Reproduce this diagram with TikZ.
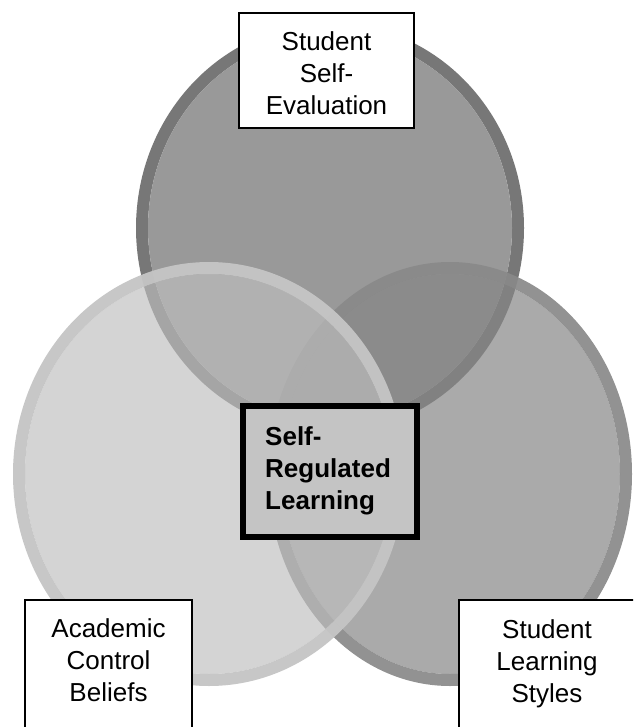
\documentclass[tikz,border=0pt]{standalone}
\usepackage{fontspec}
\setmainfont{Liberation Sans}
\definecolor{topfill}{gray}{0.60}
\definecolor{toprim}{gray}{0.467}
\definecolor{rightfill}{gray}{0.525}
\definecolor{rightrim}{gray}{0.537}
\definecolor{leftfill}{gray}{0.745}
\definecolor{leftrim}{gray}{0.773}
\definecolor{corefill}{gray}{0.77}
\tikzset{
  labelbox/.style={draw=black, line width=1.3pt, fill=white, inner sep=0pt},
  labeltext/.style={font=\fontsize{26}{32}\selectfont, align=center, inner sep=0pt, anchor=north},
  corebox/.style={draw=black, line width=6pt, fill=corefill, inner sep=0pt},
  coretext/.style={font=\bfseries\fontsize{26}{32}\selectfont, align=left, inner sep=0pt, anchor=north west},
}
\begin{document}
\begin{tikzpicture}[x=1pt,y=-1pt]
\useasboundingbox (0,0) rectangle (633,727);
\clip (0,0) rectangle (633,727);
\fill[white] (0,0) rectangle (633,727);
% top circle
\fill[toprim, even odd rule] (330,228) ellipse (194 and 205) (330,228) ellipse (182 and 193);
\fill[topfill] (330,228) ellipse (182 and 193);
% right circle
\fill[rightrim, fill opacity=0.92, even odd rule] (450,474) ellipse (182 and 212) (450,474) ellipse (170 and 200);
\fill[rightfill, fill opacity=0.70] (450,474) ellipse (170 and 200);
% left circle
\fill[leftrim, fill opacity=0.96, even odd rule] (209,474) ellipse (196 and 212) (209,474) ellipse (184 and 200);
\fill[leftfill, fill opacity=0.657] (209,474) ellipse (184 and 200);
% boxes
\node[labelbox, minimum width=175pt, minimum height=115pt] (evalbox) at (326.5,70.5) {};
\node[labeltext] (evaltext) at (326.5,30) {\rule{0pt}{20pt}Student\\Self-\\Evaluation};
\node[labelbox, minimum width=167pt, minimum height=160pt] (beliefbox) at (108.5,680) {};
\node[labeltext] (belieftext) at (108.5,617) {\rule{0pt}{20pt}Academic\\Control\\Beliefs};
\node[labelbox, minimum width=176pt, minimum height=160pt] (stylebox) at (547,680) {};
\node[labeltext] (styletext) at (547,618) {\rule{0pt}{20pt}Student\\Learning\\Styles};
\node[corebox, minimum width=174pt, minimum height=131pt] (corebox) at (330,471.5) {};
\node[coretext] (coretext) at (265,425) {\rule{0pt}{20pt}Self-\\Regulated\\Learning};
\end{tikzpicture}
\end{document}
